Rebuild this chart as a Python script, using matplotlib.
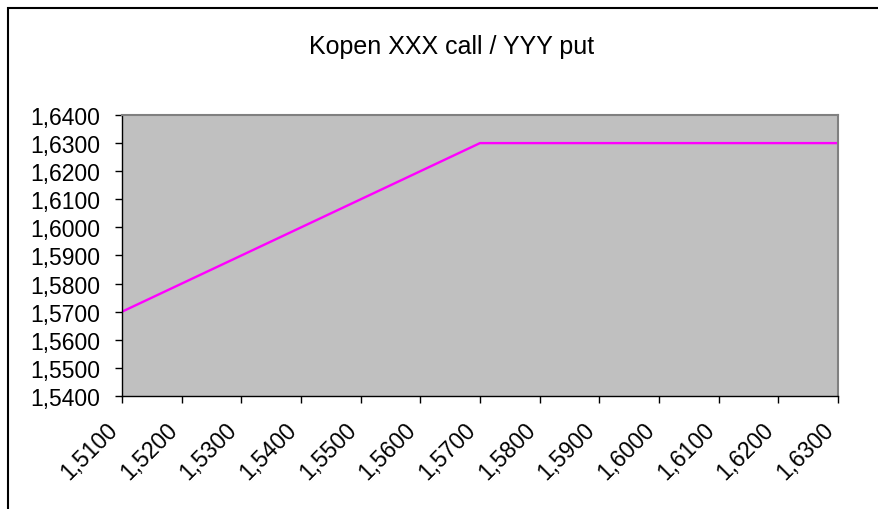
import matplotlib
matplotlib.use("Agg")
import matplotlib.pyplot as plt
from matplotlib.patches import Rectangle
from matplotlib.transforms import ScaledTranslation

plt.rcParams['font.family'] = ['Liberation Sans', 'DejaVu Sans']

x_values = [1.51, 1.52, 1.53, 1.54, 1.55, 1.56, 1.57, 1.58, 1.59, 1.60, 1.61, 1.62, 1.63]
y_values = [1.57, 1.58, 1.59, 1.60, 1.61, 1.62, 1.63, 1.63, 1.63, 1.63, 1.63, 1.63, 1.63]
y_ticks = [1.54, 1.55, 1.56, 1.57, 1.58, 1.59, 1.60, 1.61, 1.62, 1.63, 1.64]
title = "Kopen XXX call / YYY put"

def fmt(v):
    return f"{v:.4f}".replace(".", ",")

W, H = 879, 510
fig = plt.figure(figsize=(W / 100, H / 100), dpi=100)
fig.patch.set_facecolor("white")

# outer chart border
fig.add_artist(Rectangle((8 / W, -0.1), 1.2, (H - 9) / H + 0.1, transform=fig.transFigure,
                         fill=False, edgecolor="black", linewidth=1.5))

ax = fig.add_axes([122 / W, (H - 397) / H, 716 / W, 281 / H])
ax.set_facecolor("#C0C0C0")
idx = list(range(len(x_values)))
ax.plot(idx, y_values, color="#FF00FF", linewidth=1.7, solid_joinstyle="miter")
ax.set_xlim(0, len(x_values) - 1)
ax.set_ylim(y_ticks[0], y_ticks[-1])
ax.set_yticks(y_ticks)
ax.set_yticklabels([fmt(v) for v in y_ticks])
ax.set_xticks(idx)
ax.set_xticklabels([fmt(v) for v in x_values], rotation=45, ha="right", va="center",
                   rotation_mode="anchor")

for s in ["left", "bottom"]:
    ax.spines[s].set_color("black")
    ax.spines[s].set_linewidth(1.0)
for s in ["top", "right"]:
    ax.spines[s].set_color("#808080")
    ax.spines[s].set_linewidth(1.5)

ax.tick_params(axis="both", direction="out", length=5, width=1, colors="black", labelsize=16.5)
ax.tick_params(axis="y", pad=10.5)
ax.tick_params(axis="x", pad=16.5)

off = ScaledTranslation(-8 / 100, 0, fig.dpi_scale_trans)
for lab in ax.get_xticklabels():
    lab.set_transform(lab.get_transform() + off)

fig.text(452 / W, (H - 47) / H, title, ha="center", va="center", fontsize=18)

fig.savefig("out.png", dpi=100)
